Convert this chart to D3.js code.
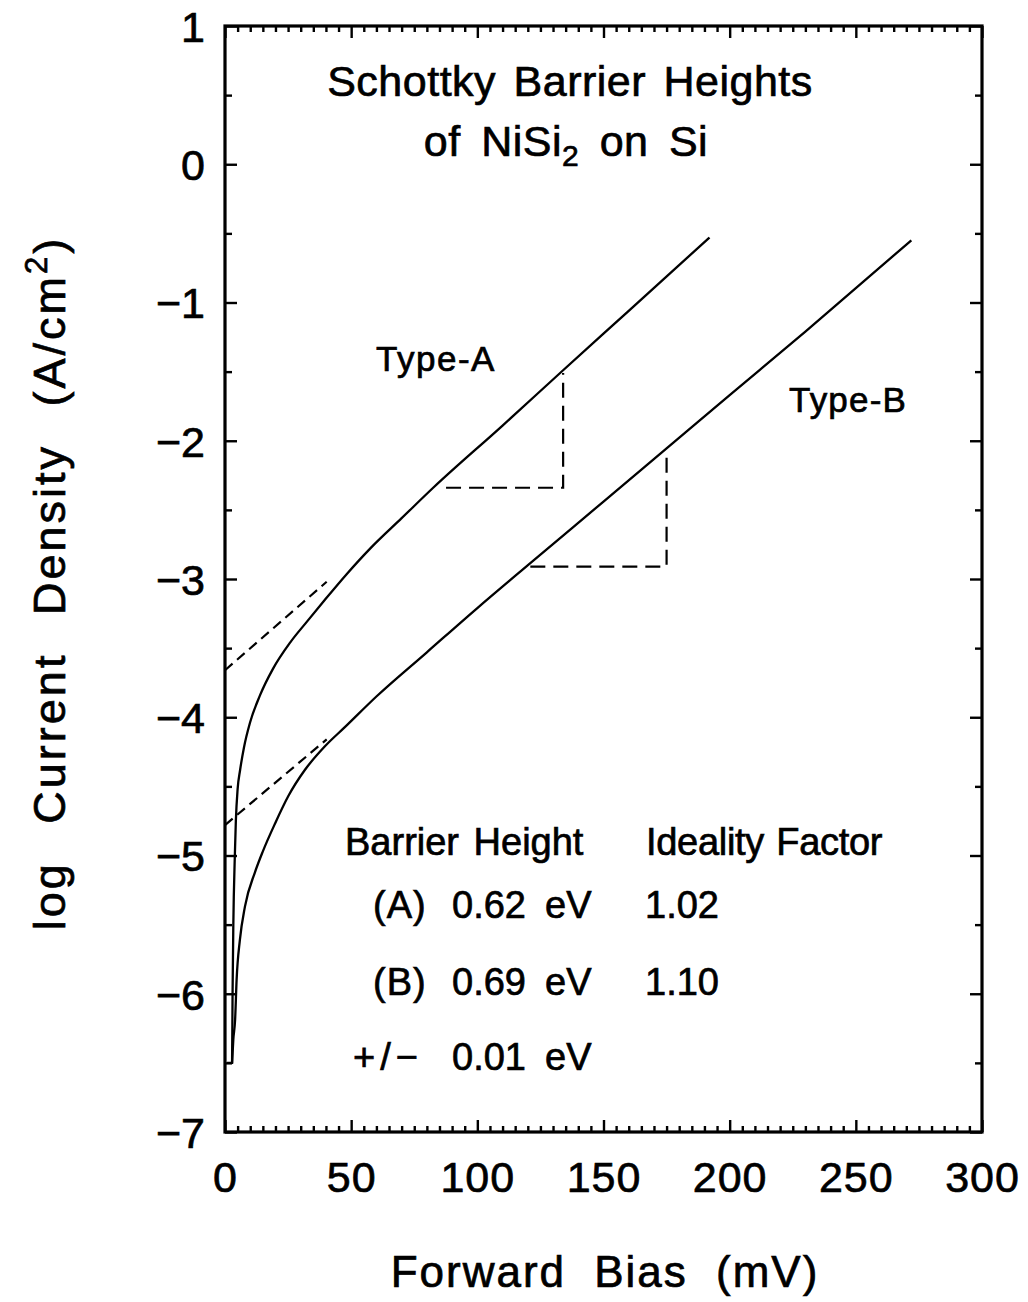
<!DOCTYPE html>
<html><head><meta charset="utf-8">
<script src="https://cdn.jsdelivr.net/npm/d3@7"></script>
<style>
body{margin:0;background:#fff;}
svg{display:block;}
text{font-family:"Liberation Sans",Arial,sans-serif;fill:#000;stroke:#000;stroke-width:0.7px;}
</style></head>
<body>
<svg id="chart" width="1028" height="1302"></svg>
<script>
// ---- data ----
const typeA_mV   = [0.8, 2.8, 3.0, 3.3, 3.9, 4.3, 5.0, 6.0, 7.5, 9.9, 13.9, 19.0, 25.8, 32.4, 39.6, 48.2, 57.5, 70, 82.5, 110, 134, 160, 192];
const typeA_logJ = [-6.5, -6.5, -6.0, -5.5, -5.0, -4.75, -4.52, -4.38, -4.22, -4.04, -3.84, -3.65, -3.46, -3.31, -3.15, -2.965, -2.78, -2.56, -2.34, -1.89, -1.49, -1.06, -0.53];
const typeB_mV   = [2.8, 3.3, 4.0, 4.6, 5.9, 7.9, 11.9, 15.0, 19.8, 25.1, 31.7, 39.6, 47.6, 60, 80, 100, 121, 150, 175, 200, 230, 272];
const typeB_logJ = [-6.5, -6.33, -6.19, -5.9, -5.61, -5.37, -5.12, -4.97, -4.77, -4.57, -4.38, -4.21, -4.07, -3.85, -3.53, -3.21, -2.885, -2.44, -2.055, -1.67, -1.21, -0.55];
const extrapA_mV = [0, 40.3], extrapA_logJ = [-3.66, -3.02];
const extrapB_mV = [0, 40.3], extrapB_logJ = [-4.78, -4.16];
const slopeA_mV = [87.6, 134, 134], slopeA_logJ = [-2.34, -2.34, -1.51];
const slopeB_mV = [121, 175, 175], slopeB_logJ = [-2.91, -2.91, -2.11];
const xTicks = [0, 50, 100, 150, 200, 250, 300];
const yTicks = [1, 0, -1, -2, -3, -4, -5, -6, -7];
const legendRows = [
  ["(A)", "0.62", "eV", "1.02"],
  ["(B)", "0.69", "eV", "1.10"],
  ["+/\u2212", "0.01", "eV", ""]
];

// ---- layout ----
const svg = d3.select("#chart");
const L = 225, R = 982, T = 26, B = 1132;
const x = d3.scaleLinear().domain([0, 300]).range([L, R]);
const y = d3.scaleLinear().domain([-7, 1]).range([B, T]);

const minorX = d3.range(0, 301, 5).filter(v => v % 50 !== 0);
const minorY = d3.range(-6.5, 1, 1);

function styleAxis(g){ g.select(".domain").remove(); g.selectAll("line").attr("stroke","#000").attr("stroke-width",2.4); }

// bottom
svg.append("g").attr("transform",`translate(0,${B})`)
  .call(d3.axisBottom(x).tickValues(minorX).tickSize(-6).tickFormat("")).call(styleAxis);
const gxb = svg.append("g").attr("transform",`translate(0,${B})`)
  .call(d3.axisBottom(x).tickValues(xTicks).tickSize(-12).tickPadding(0).tickFormat(d3.format("d"))).call(styleAxis);
gxb.selectAll("text").attr("y",60).attr("dy",0).style("font-size","43px").style("letter-spacing","1px");
// top
svg.append("g").attr("transform",`translate(0,${T})`)
  .call(d3.axisTop(x).tickValues(minorX).tickSize(-6).tickFormat("")).call(styleAxis);
svg.append("g").attr("transform",`translate(0,${T})`)
  .call(d3.axisTop(x).tickValues(xTicks).tickSize(-12).tickFormat("")).call(styleAxis);
// left
svg.append("g").attr("transform",`translate(${L},0)`)
  .call(d3.axisLeft(y).tickValues(minorY).tickSize(-7).tickFormat("")).call(styleAxis);
const gyl = svg.append("g").attr("transform",`translate(${L},0)`)
  .call(d3.axisLeft(y).tickValues(yTicks).tickSize(-12).tickPadding(0).tickFormat(d3.format("d"))).call(styleAxis);
gyl.selectAll("text").attr("x",-20).attr("dy","0.36em").style("font-size","43px");
// right
svg.append("g").attr("transform",`translate(${R},0)`)
  .call(d3.axisRight(y).tickValues(minorY).tickSize(-7).tickFormat("")).call(styleAxis);
svg.append("g").attr("transform",`translate(${R},0)`)
  .call(d3.axisRight(y).tickValues(yTicks).tickSize(-12).tickFormat("")).call(styleAxis);
svg.selectAll("g text").style("stroke-width","0.7px");

// frame
svg.append("rect").attr("x",L).attr("y",T).attr("width",R-L).attr("height",B-T)
  .attr("fill","none").attr("stroke","#000").attr("stroke-width",3.2);

// curves
const line = d3.line().x(d => x(d[0])).y(d => y(d[1]));
function series(xs, ys){ return xs.map((v,i)=>[v, ys[i]]); }
const curve = d3.line().x(d => x(d[0])).y(d => y(d[1])).curve(d3.curveMonotoneX);
svg.append("path").attr("d", curve(series(typeA_mV, typeA_logJ)))
  .attr("fill","none").attr("stroke","#000").attr("stroke-width",2.3);
svg.append("path").attr("d", curve(series(typeB_mV, typeB_logJ)))
  .attr("fill","none").attr("stroke","#000").attr("stroke-width",2.3);
[[extrapA_mV, extrapA_logJ],[extrapB_mV, extrapB_logJ]].forEach(([a,b]) => {
  svg.append("path").attr("d", line(series(a,b))).attr("fill","none")
    .attr("stroke","#000").attr("stroke-width",2.2).attr("stroke-dasharray","10,6");
});
[[slopeA_mV, slopeA_logJ],[slopeB_mV, slopeB_logJ]].forEach(([a,b]) => {
  svg.append("path").attr("d", line(series(a,b))).attr("fill","none")
    .attr("stroke","#000").attr("stroke-width",2.2).attr("stroke-dasharray","15,8");
});

// title
svg.append("text").attr("x",570).attr("y",96).attr("text-anchor","middle")
  .style("font-size","43px").style("word-spacing","5px").style("letter-spacing","0.5px").text("Schottky Barrier Heights");
const t2 = svg.append("text").attr("x",566).attr("y",156).attr("text-anchor","middle")
  .style("font-size","43px").style("word-spacing","8px").style("letter-spacing","0.5px");
t2.append("tspan").text("of NiSi");
t2.append("tspan").attr("dy",10).style("font-size","30px").text("2");
t2.append("tspan").attr("dy",-10).text(" on Si");

// axis titles
svg.append("text").attr("x",605).attr("y",1287).attr("text-anchor","middle")
  .style("font-size","44px").style("word-spacing","14px").style("letter-spacing","2px").text("Forward Bias (mV)");
const yt = svg.append("text").attr("transform","translate(65,583) rotate(-90)").attr("text-anchor","middle")
  .style("font-size","45px").style("word-spacing","22px").style("letter-spacing","3px");
yt.append("tspan").text("log Current Density (A/cm");
yt.append("tspan").attr("dy",-18).style("font-size","31px").text("2");
yt.append("tspan").attr("dy",18).text(")");

// series labels
svg.append("text").attr("x",376).attr("y",371).style("font-size","35px").style("letter-spacing","1.5px").text("Type-A");
svg.append("text").attr("x",789).attr("y",412).style("font-size","35px").style("letter-spacing","1.2px").text("Type-B");

// legend
svg.append("text").attr("x",345).attr("y",855).style("font-size","38px").style("word-spacing","4px").text("Barrier Height");
svg.append("text").attr("x",646).attr("y",855).style("font-size","38px").style("word-spacing","2px").style("letter-spacing","-0.3px").text("Ideality Factor");
const rowY = [918, 995, 1070];
const colX = [373, 452, 545, 645];
legendRows.forEach((r,i) => {
  svg.append("text").attr("x", i === 2 ? 353 : colX[0]).attr("y",rowY[i]).style("font-size","38px")
    .style("letter-spacing", i === 2 ? "5px" : "1px").text(r[0]);
  for (let c=1;c<4;c++) if (r[c]) svg.append("text").attr("x",colX[c]).attr("y",rowY[i]).style("font-size","38px").text(r[c]);
});
</script>
</body></html>
